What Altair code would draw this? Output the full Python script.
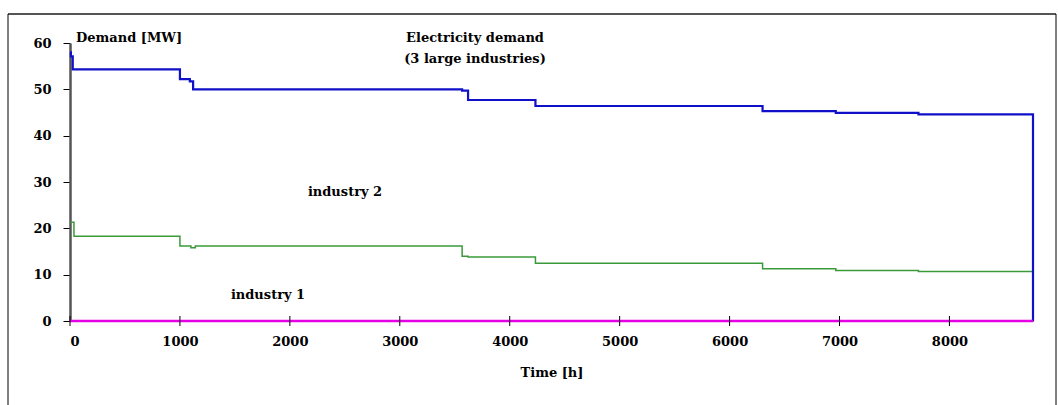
import altair as alt
import pandas as pd

# ---- data ----
hours_total = [0, 8, 25, 1000, 1090, 1120, 3567, 3621, 4234, 6300, 6966, 7718, 8760, 8760]
mw_total = [58.0, 57.1, 54.3, 52.2, 51.7, 50.0, 49.7, 47.7, 46.4, 45.3, 44.9, 44.6, 44.6, 0.0]

hours_ind2 = [0, 36, 1000, 1100, 1140, 3567, 3621, 4234, 6300, 6966, 7718, 8760]
mw_ind2 = [21.3, 18.3, 16.2, 15.8, 16.2, 14.0, 13.8, 12.45, 11.3, 10.9, 10.7, 10.7]

hours_ind1 = [0, 8760]
mw_ind1 = [0.0, 0.0]

x_ticks = [0, 1000, 2000, 3000, 4000, 5000, 6000, 7000, 8000]
y_ticks = [0, 10, 20, 30, 40, 50, 60]

FONT = "DejaVu Serif"
FS = 13

df_total = pd.DataFrame({"h": hours_total, "mw": mw_total})
df_ind2 = pd.DataFrame({"h": hours_ind2, "mw": mw_ind2})
df_ind1 = pd.DataFrame({"h": hours_ind1, "mw": mw_ind1})
df_ticks = pd.DataFrame({"h": x_ticks})

xscale = alt.Scale(domain=[0, 8760], nice=False, zero=False)
yscale = alt.Scale(domain=[0, 60], nice=False)

x_axis = alt.Axis(values=x_ticks, format="d", title="Time [h]", grid=False, ticks=False,
                  domainColor="#000000", domainWidth=1,
                  labelFont=FONT, labelFontSize=FS, labelFontWeight="bold",
                  labelColor="#000000", labelPadding=14,
                  titleFont=FONT, titleFontSize=FS, titleFontWeight="bold",
                  titleColor="#000000", titlePadding=18)
y_axis = alt.Axis(values=y_ticks, format="d", title=None, grid=False, tickSize=7,
                  tickColor="#000000", domainColor="#555555", domainWidth=2.5,
                  labelFont=FONT, labelFontSize=FS, labelFontWeight="bold",
                  labelColor="#000000", labelPadding=12)

base_x = alt.X("h:Q", scale=xscale, axis=x_axis)
base_y = alt.Y("mw:Q", scale=yscale, axis=y_axis)

green = alt.Chart(df_ind2).mark_line(interpolate="step-after", color="#3a9a3a", strokeWidth=1.5).encode(
    x=base_x, y=base_y)
blue = alt.Chart(df_total).mark_line(interpolate="step-after", color="#1010c8", strokeWidth=2.2).encode(
    x="h:Q", y="mw:Q")
magenta = alt.Chart(df_ind1).mark_line(color="#e600e6", strokeWidth=2.5).encode(
    x="h:Q", y="mw:Q")

ticks = alt.Chart(df_ticks).mark_rule(color="#000000", strokeWidth=1).encode(
    x="h:Q", y=alt.value(273), y2=alt.value(283))

def label(txt, x, y, align="center"):
    return alt.Chart(pd.DataFrame({"t": [txt]})).mark_text(
        font=FONT, fontSize=FS, fontWeight="bold", color="#000000",
        align=align, baseline="middle").encode(
        text="t:N", x=alt.value(x), y=alt.value(y))

texts = (label("Demand [MW]", 6, -5, "left")
         + label("Electricity demand", 405, -5)
         + label("(3 large industries)", 405, 16)
         + label("industry 2", 275, 149)
         + label("industry 1", 198, 252))

frame_top = alt.Chart(pd.DataFrame({"a": [0]})).mark_rule(color="#555555", strokeWidth=2).encode(
    x=alt.value(-62), x2=alt.value(986), y=alt.value(-29))
frame_left = alt.Chart(pd.DataFrame({"a": [0]})).mark_rule(color="#000000", strokeWidth=1).encode(
    x=alt.value(-62), y=alt.value(-29), y2=alt.value(400))
frame_right = alt.Chart(pd.DataFrame({"a": [0]})).mark_rule(color="#000000", strokeWidth=1).encode(
    x=alt.value(986), y=alt.value(-29), y2=alt.value(400))

chart = alt.layer(green, blue, magenta, ticks, texts, frame_top, frame_left, frame_right).properties(
    width=963, height=278,
    autosize=alt.AutoSizeParams(type="none"),
    padding={"left": 70, "top": 43, "right": 25, "bottom": 84},
    background="#ffffff",
).configure_view(stroke=None)

chart.save("out.html", embed_options={"renderer": "svg", "actions": False})
